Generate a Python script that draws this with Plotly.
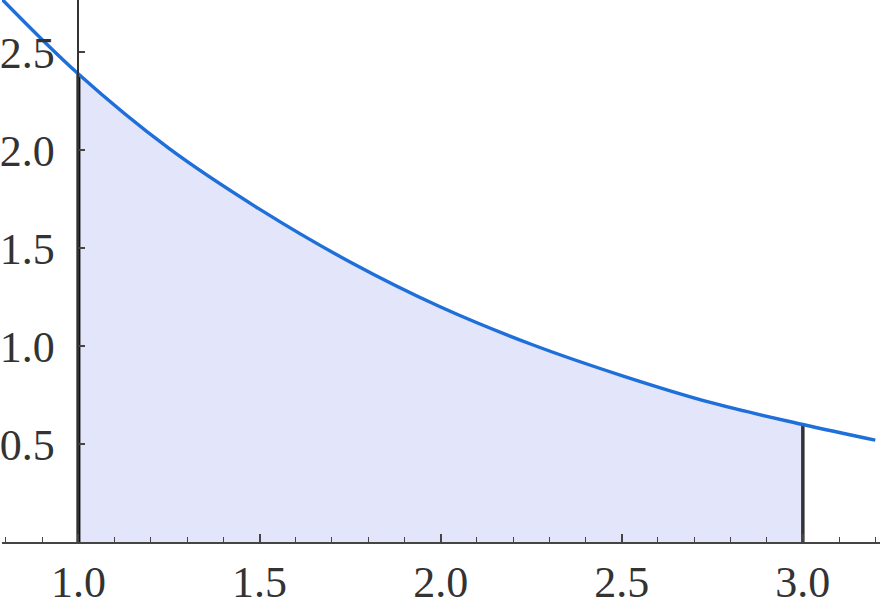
import plotly.graph_objects as go

# Curve values
curve_x = [0.79, 1.0, 1.25, 1.5, 1.75, 2.0, 2.25, 2.5, 2.75, 3.0, 3.2]
curve_y = [2.77, 2.39, 2.01, 1.70, 1.43, 1.20, 1.01, 0.85, 0.71, 0.60, 0.52]

# Shaded interval
x_lo = 1.0
x_hi = 3.0

x_ticks = [1.0, 1.5, 2.0, 2.5, 3.0]
y_ticks = [0.5, 1.0, 1.5, 2.0, 2.5]

fill_x = [x for x in curve_x if x_lo <= x <= x_hi]
fill_y = [y for x, y in zip(curve_x, curve_y) if x_lo <= x <= x_hi]
y_at_lo = curve_y[curve_x.index(x_lo)]
y_at_hi = curve_y[curve_x.index(x_hi)]

FONT = "Liberation Serif"

fig = go.Figure()
fig.add_trace(go.Scatter(
    x=fill_x, y=fill_y, mode="lines", line=dict(width=0, shape="spline"),
    fill="tozeroy", fillcolor="#E3E5FA", hoverinfo="skip", showlegend=False))
fig.add_trace(go.Scatter(
    x=[x_lo, x_lo], y=[0, y_at_lo], mode="lines",
    line=dict(color="#111111", width=4), showlegend=False))
fig.add_trace(go.Scatter(
    x=[x_hi, x_hi], y=[0, y_at_hi], mode="lines",
    line=dict(color="#333333", width=3.5), showlegend=False))
fig.add_trace(go.Scatter(
    x=curve_x, y=curve_y, mode="lines",
    line=dict(color="#1E6FD9", width=3.4, shape="spline"), showlegend=False))

fig.update_layout(
    width=880, height=608,
    margin=dict(l=0, r=0, t=0, b=66),
    plot_bgcolor="white", paper_bgcolor="white",
    font=dict(family=FONT, size=44, color="#333333"),
    xaxis=dict(
        range=[0.789, 3.213], tickvals=x_ticks, tickformat=".1f",
        ticks="inside", ticklen=8, tickwidth=1.5, tickcolor="#444",
        minor=dict(dtick=0.1, tick0=0, ticks="inside", ticklen=5, tickwidth=1.2, tickcolor="#444"),
        showgrid=False, zeroline=False, showline=True, linecolor="#444", linewidth=1.5,
        ticklabelstandoff=0,
    ),
    yaxis=dict(
        range=[0, 2.768], tickvals=y_ticks, tickformat=".1f",
        anchor="free", position=76.5 / 880,
        ticks="inside", ticklen=6, tickwidth=1.5, tickcolor="#444",
        showgrid=False, zeroline=False, showline=True, linecolor="#333", linewidth=1.5,
        ticklabelstandoff=14,
    ),
)

fig.write_html(
    "out.html",
    config={"displayModeBar": False},
    post_script="document.body.style.margin='0';document.body.style.padding='0';",
)
